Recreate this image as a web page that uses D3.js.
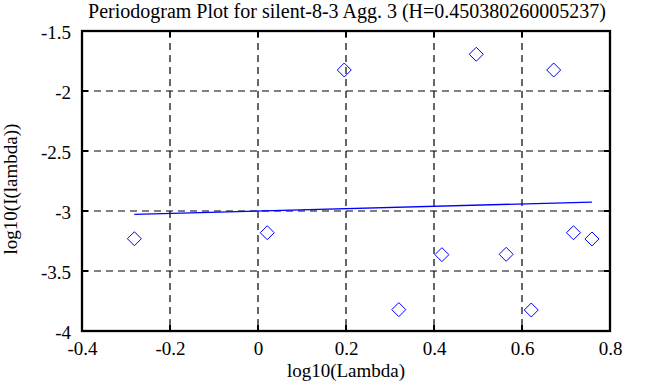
<!DOCTYPE html>
<html>
<head>
<meta charset="utf-8">
<script src="https://cdn.jsdelivr.net/npm/d3@7"></script>
<style>
  body { margin: 0; background: #fff; }
  svg { display: block; }
  text { font-family: "Liberation Serif", "DejaVu Serif", serif; fill: #000; }
</style>
</head>
<body>
<div id="chart"></div>
<script>
// periodogram points (log10 lambda, log10 I(lambda))
const logLambda = [-0.281, 0.021, 0.196, 0.320, 0.418, 0.496, 0.564, 0.621, 0.672, 0.717, 0.759]
const logI = [-3.231, -3.181, -1.825, -3.822, -3.364, -1.694, -3.361, -3.825, -1.825, -3.181, -3.233]

// least squares fit line endpoints
const fitX = [-0.281, 0.759]
const fitY = [-3.028, -2.926]

const xTicks = [-0.4, -0.2, 0, 0.2, 0.4, 0.6, 0.8]
const yTicks = [-4, -3.5, -3, -2.5, -2, -1.5]

const width = 653, height = 387
const margin = {top: 31, right: 43, bottom: 56, left: 82}
const plotW = width - margin.left - margin.right
const plotH = height - margin.top - margin.bottom

const svg = d3.select("#chart").append("svg")
    .attr("width", width)
    .attr("height", height)

const x = d3.scaleLinear().domain([-0.4, 0.8]).range([margin.left, margin.left + plotW])
const y = d3.scaleLinear().domain([-4, -1.5]).range([margin.top + plotH, margin.top])

// dashed grid, interior only
const innerX = xTicks.slice(1, -1)
const innerY = yTicks.slice(1, -1)

svg.append("g").selectAll("line")
    .data(innerX).join("line")
    .attr("x1", d => x(d)).attr("x2", d => x(d))
    .attr("y1", margin.top).attr("y2", margin.top + plotH)
    .attr("stroke", "#000").attr("stroke-width", 1.2)
    .attr("stroke-dasharray", "7,5")

svg.append("g").selectAll("line")
    .data(innerY).join("line")
    .attr("x1", margin.left).attr("x2", margin.left + plotW)
    .attr("y1", d => y(d)).attr("y2", d => y(d))
    .attr("stroke", "#000").attr("stroke-width", 1.2)
    .attr("stroke-dasharray", "7,5")

// inward ticks on all four sides
const tickLen = 6
const ticks = svg.append("g").attr("stroke", "#000").attr("stroke-width", 2)
innerX.forEach(d => {
    ticks.append("line").attr("x1", x(d)).attr("x2", x(d))
        .attr("y1", margin.top + plotH).attr("y2", margin.top + plotH - tickLen)
    ticks.append("line").attr("x1", x(d)).attr("x2", x(d))
        .attr("y1", margin.top).attr("y2", margin.top + tickLen)
})
innerY.forEach(d => {
    ticks.append("line").attr("y1", y(d)).attr("y2", y(d))
        .attr("x1", margin.left).attr("x2", margin.left + tickLen)
    ticks.append("line").attr("y1", y(d)).attr("y2", y(d))
        .attr("x1", margin.left + plotW).attr("x2", margin.left + plotW - tickLen)
})

// axes for labels only
const xAxis = svg.append("g")
    .attr("transform", `translate(0,${margin.top + plotH})`)
    .call(d3.axisBottom(x).tickValues(xTicks).tickSize(0).tickPadding(11).tickFormat(d => String(d)))
const yAxis = svg.append("g")
    .attr("transform", `translate(${margin.left},0)`)
    .call(d3.axisLeft(y).tickValues(yTicks).tickSize(0).tickPadding(11).tickFormat(d => String(d)))
;[xAxis, yAxis].forEach(a => {
    a.select(".domain").remove()
    a.selectAll("text").attr("font-size", 19)
})
yAxis.selectAll("text").attr("dy", "0.42em")

// frame
svg.append("rect")
    .attr("x", margin.left).attr("y", margin.top)
    .attr("width", plotW).attr("height", plotH)
    .attr("fill", "none").attr("stroke", "#000").attr("stroke-width", 2.3)

// fit line
const line = d3.line().x(d => x(d[0])).y(d => y(d[1]))
svg.append("path")
    .datum(d3.zip(fitX, fitY))
    .attr("d", line)
    .attr("fill", "none").attr("stroke", "#0000ff").attr("stroke-width", 1.4)

// diamonds
const pts = d3.zip(logLambda, logI)
svg.append("g").selectAll("path")
    .data(pts).join("path")
    .attr("transform", d => `translate(${x(d[0])},${y(d[1])})`)
    .attr("d", "M0,-7L7,0L0,7L-7,0Z")
    .attr("fill", "none").attr("stroke", "#0000ff").attr("stroke-width", 1)

// titles
svg.append("text")
    .attr("x", margin.left + plotW / 2 + 1).attr("y", 18)
    .attr("text-anchor", "middle").attr("font-size", 20)
    .text("Periodogram Plot for silent-8-3 Agg. 3 (H=0.450380260005237)")

svg.append("text")
    .attr("x", margin.left + plotW / 2).attr("y", 377)
    .attr("text-anchor", "middle").attr("font-size", 19)
    .text("log10(Lambda)")

svg.append("text")
    .attr("transform", `translate(17,${margin.top + plotH / 2 + 8}) rotate(-90)`)
    .attr("text-anchor", "middle").attr("font-size", 19)
    .text("log10(I(lambda))")
</script>
</body>
</html>
